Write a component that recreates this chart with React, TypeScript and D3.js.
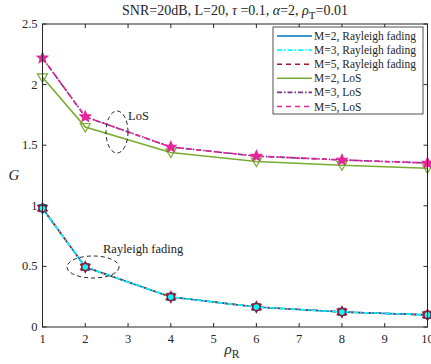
import React from "react";
import * as d3 from "d3";

const xs = [1, 2, 4, 6, 8, 10];
const rayleighM2 = [0.98, 0.495, 0.248, 0.165, 0.124, 0.1];
const rayleighM3 = [0.98, 0.495, 0.248, 0.165, 0.124, 0.1];
const rayleighM5 = [0.98, 0.495, 0.248, 0.165, 0.124, 0.1];
const losM2 = [2.06, 1.65, 1.44, 1.365, 1.335, 1.31];
const losM3 = [2.22, 1.735, 1.485, 1.41, 1.378, 1.353];
const losM5 = [2.22, 1.735, 1.485, 1.41, 1.378, 1.353];
const xTicks = [1, 2, 3, 4, 5, 6, 7, 8, 9, 10];
const yTicks = [0, 0.5, 1, 1.5, 2, 2.5];
const legendLabels = [
  "M=2, Rayleigh fading",
  "M=3, Rayleigh fading",
  "M=5, Rayleigh fading",
  "M=2, LoS",
  "M=3, LoS",
  "M=5, LoS",
];

type Series = {
  values: number[];
  color: string;
  dash: string;
  marker: string;
  filled: boolean;
  size: number;
  label: string;
};

const series: Series[] = [
  { values: rayleighM2, color: "#0072BD", dash: "", marker: "square", filled: false, size: 3.5, label: legendLabels[0] },
  { values: rayleighM5, color: "#A2142F", dash: "5,4", marker: "hexagram", filled: true, size: 5.5, label: legendLabels[2] },
  { values: rayleighM3, color: "#00FFFF", dash: "5,2,1.5,2", marker: "circle", filled: true, size: 2.2, label: legendLabels[1] },
  { values: losM2, color: "#77AC30", dash: "", marker: "triangleDown", filled: false, size: 5, label: legendLabels[3] },
  { values: losM3, color: "#7E2F8E", dash: "5,2,1.5,2", marker: "none", filled: false, size: 4, label: legendLabels[4] },
  { values: losM5, color: "#E8239C", dash: "5,4", marker: "pentagram", filled: true, size: 5.5, label: legendLabels[5] },
];

const legendOrder = [0, 2, 1, 3, 4, 5];

const W = 431;
const H = 364;
const L = 42.5;
const R = 427.5;
const T = 24;
const B = 327;
const font = "'Liberation Serif', 'Times New Roman', serif";

function markerPath(kind: string, s: number): string {
  if (kind === "hexagram") {
    const pts: string[] = [];
    for (let i = 0; i < 12; i++) {
      const a = -Math.PI / 2 + (i * Math.PI) / 6;
      const rr = i % 2 === 0 ? s : s * 0.577;
      pts.push(`${rr * Math.cos(a)},${rr * Math.sin(a)}`);
    }
    return "M" + pts.join("L") + "Z";
  }
  if (kind === "pentagram") {
    const pts: string[] = [];
    for (let i = 0; i < 10; i++) {
      const a = -Math.PI / 2 + (i * Math.PI) / 5;
      const rr = i % 2 === 0 ? s : s * 0.45;
      pts.push(`${rr * Math.cos(a)},${rr * Math.sin(a)}`);
    }
    return "M" + pts.join("L") + "Z";
  }
  if (kind === "triangleDown") {
    return `M${-s},${-s * 0.7}L${s},${-s * 0.7}L0,${s * 1.0}Z`;
  }
  if (kind === "square") {
    const h = s;
    return `M${-h},${-h}L${h},${-h}L${h},${h}L${-h},${h}Z`;
  }
  if (kind === "circle") {
    return d3.symbol(d3.symbolCircle, Math.PI * s * s)() || "";
  }
  return "";
}

export default function App() {
  const x = d3.scaleLinear().domain([1, 10]).range([L, R]);
  const y = d3.scaleLinear().domain([0, 2.5]).range([B, T]);
  const line = d3
    .line<number>()
    .x((_, i) => x(xs[i]))
    .y((d) => y(d));

  const legX = 273;
  const legY = 27;
  const legW = 150;
  const legH = 87;
  const rowH = 14.1;

  return (
    <div style={{ position: "absolute", left: 0, top: 0 }}>
      <svg width={W} height={H} style={{ display: "block", background: "#fff" }}>
        <rect x={0} y={0} width={W} height={H} fill="#fff" />
        {/* title */}
        <text x={235} y={15} fontFamily={font} fontSize={14} textAnchor="middle" fill="#222">
          SNR=20dB, L=20,{" "}
          <tspan fontStyle="italic">τ</tspan>
          {" "}=0.1,{" "}
          <tspan fontStyle="italic">α</tspan>
          =2,{" "}
          <tspan fontStyle="italic">ρ</tspan>
          <tspan dy={4} fontSize={11}>T</tspan>
          <tspan dy={-4}>=0.01</tspan>
        </text>

        {/* series lines */}
        {series.map((s, k) => (
          <path
            key={k}
            d={line(s.values) || ""}
            fill="none"
            stroke={s.color}
            strokeWidth={1.6}
            strokeDasharray={s.dash}
          />
        ))}
        {/* markers */}
        {series.map((s, k) => (
          <g key={"m" + k}>
            {s.values.map((v, i) => (
              <path
                key={i}
                d={markerPath(s.marker, s.size)}
                transform={`translate(${x(xs[i])},${y(v)})`}
                fill={s.filled ? s.color : "none"}
                stroke={s.color}
                strokeWidth={1.2}
              />
            ))}
          </g>
        ))}

        {/* axes box */}
        <rect x={L} y={T} width={R - L} height={B - T} fill="none" stroke="#262626" strokeWidth={1} />
        {xTicks.map((t) => (
          <g key={"xt" + t}>
            <line x1={x(t)} x2={x(t)} y1={B} y2={B - 4} stroke="#262626" />
            <line x1={x(t)} x2={x(t)} y1={T} y2={T + 4} stroke="#262626" />
            <text x={x(t)} y={B + 16} fontFamily={font} fontSize={12.5} textAnchor="middle" fill="#262626">
              {t}
            </text>
          </g>
        ))}
        {yTicks.map((t) => (
          <g key={"yt" + t}>
            <line x1={L} x2={L + 4} y1={y(t)} y2={y(t)} stroke="#262626" />
            <line x1={R} x2={R - 4} y1={y(t)} y2={y(t)} stroke="#262626" />
            <text x={L - 5} y={y(t) + 4} fontFamily={font} fontSize={12.5} textAnchor="end" fill="#262626">
              {t}
            </text>
          </g>
        ))}

        {/* axis labels */}
        <text x={14} y={(T + B) / 2 + 4} fontFamily={font} fontSize={15} fontStyle="italic" textAnchor="middle" fill="#262626">
          G
        </text>
        <text x={232} y={354} fontFamily={font} fontSize={15} fontStyle="italic" textAnchor="middle" fill="#262626">
          ρ<tspan dy={4} fontSize={11.5} fontStyle="normal">R</tspan>
        </text>

        {/* annotations */}
        <ellipse cx={117} cy={132} rx={11} ry={21} fill="none" stroke="#222" strokeWidth={1} strokeDasharray="4,3" />
        <text x={128} y={120} fontFamily={font} fontSize={12.5} fill="#222">LoS</text>
        <ellipse cx={93} cy={267} rx={26} ry={11} fill="none" stroke="#222" strokeWidth={1} strokeDasharray="4,3" />
        <text x={103} y={253} fontFamily={font} fontSize={12.5} fill="#222">Rayleigh fading</text>

        {/* legend */}
        <rect x={legX} y={legY} width={legW} height={legH} fill="#fff" stroke="#262626" strokeWidth={0.8} />
        {legendOrder.map((idx, k) => {
          const s = series[idx];
          const yy = legY + 9 + k * rowH;
          return (
            <g key={"lg" + k}>
              <line x1={legX + 4} x2={legX + 39} y1={yy} y2={yy} stroke={s.color} strokeWidth={1.6} strokeDasharray={s.dash} />
              <text x={legX + 41} y={yy + 4} fontFamily={font} fontSize={11.5} fill="#262626">
                {s.label}
              </text>
            </g>
          );
        })}
      </svg>
    </div>
  );
}
